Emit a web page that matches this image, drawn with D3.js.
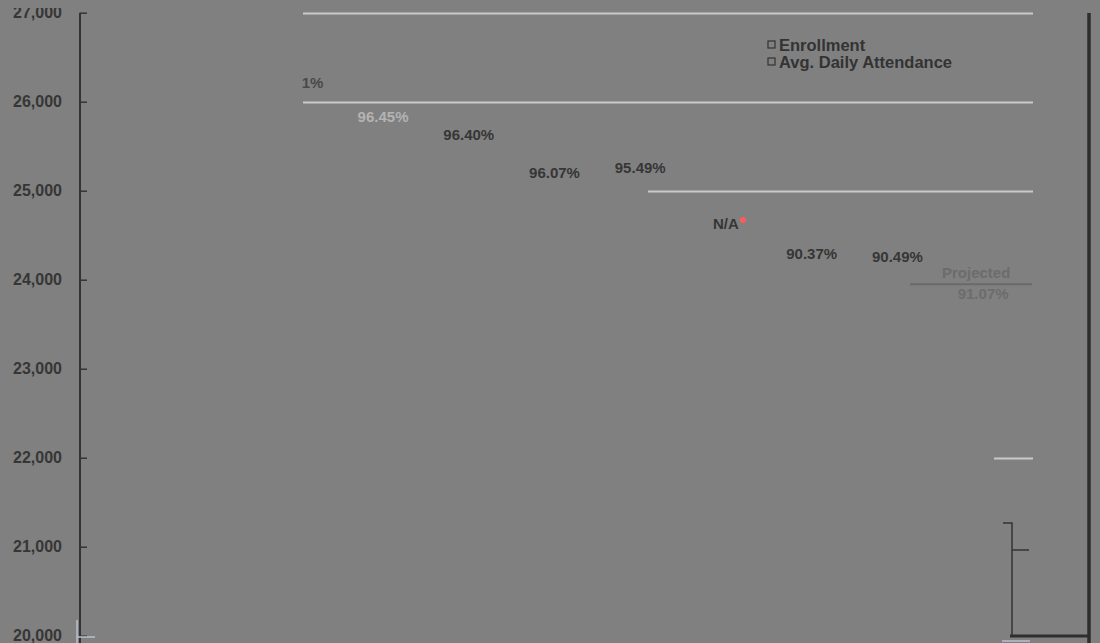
<!DOCTYPE html>
<html>
<head>
<meta charset="utf-8">
<script src="https://cdnjs.cloudflare.com/ajax/libs/d3/7.8.5/d3.min.js"></script>
<style>
  html, body { margin: 0; padding: 0; background: #808080; }
  svg { display: block; }
  .tick-label { font-family: "Liberation Sans", Arial, sans-serif; font-weight: bold; font-size: 16px; fill: #363636; }
  .rate { font-family: "Liberation Sans", Arial, sans-serif; font-weight: bold; font-size: 15px; }
  .legend { font-family: "Liberation Sans", Arial, sans-serif; font-weight: bold; font-size: 16.5px; fill: #333; }
</style>
</head>
<body>
<div id="chart"></div>
<script>
// categories (years are not printed on the chart, only positions)
const categories = ["P1","P2","P3","P4","P5","P6","P7","P8","P9","P10","P11"];
// attendance rate labels per category
const rateLabels = [null, null, "1%", "96.45%", "96.40%", "96.07%", "95.49%", "N/A", "90.37%", "90.49%", "91.07%"];
// enrollment level the rate label sits at
const labelLevels = [null, null, 26150, 25770, 25570, 25140, 25200, 24570, 24230, 24200, 23780];
// y ticks
const yTicks = [20000, 21000, 22000, 23000, 24000, 25000, 26000, 27000];

const W = 1100, H = 643;

const svg = d3.select("#chart").append("svg")
	.attr("width", W)
	.attr("height", H);

svg.append("rect").attr("width", W).attr("height", H).attr("fill", "#808080");

const x = d3.scaleBand().domain(categories).range([83, 1026]);
const y = d3.scaleLinear().domain([20000, 27000]).range([635.7, 12.7]);

//-----------------------------------------------------
// gridlines (only partly visible in the chart)
const gridFrom = {27000: 303, 26000: 303, 25000: 648, 22000: 994};
svg.selectAll(".grid")
	.data(yTicks.filter(function(t) { return gridFrom[t] !== undefined; }))
	.enter()
	.append("line")
	.attr("class", "grid")
	.attr("x1", function(t) { return gridFrom[t]; })
	.attr("x2", 1033)
	.attr("y1", function(t) { return Math.round(y(t)) + 0.5; })
	.attr("y2", function(t) { return Math.round(y(t)) + 0.5; })
	.attr("stroke", "#c9c9c9")
	.attr("stroke-width", 2);

//-----------------------------------------------------
// left axis
const yAxis = d3.axisRight(y).tickValues(yTicks).tickSize(7).tickFormat("");
const ga = svg.append("g").attr("transform", "translate(80,0)").call(yAxis);
ga.select(".domain").remove();
ga.selectAll(".tick line").attr("stroke", "#333").attr("stroke-width", 1.5);
ga.append("line")
	.attr("x1", 0).attr("x2", 0)
	.attr("y1", y(27000)).attr("y2", H)
	.attr("stroke", "#333").attr("stroke-width", 2);

svg.selectAll(".tick-label")
	.data(yTicks)
	.enter()
	.append("text")
	.attr("class", "tick-label")
	.attr("x", 62)
	.attr("y", function(t) { return y(t); })
	.attr("dy", "0.36em")
	.attr("text-anchor", "end")
	.text(d3.format(","));

// top edge hides the upper part of the first label
svg.append("rect")
	.attr("x", 0).attr("y", 0)
	.attr("width", 75).attr("height", 8)
	.attr("fill", "#808080");

// light marks at the bottom of the left axis
svg.append("path")
	.attr("d", "M77,620 V643 M77,637 H95")
	.attr("fill", "none")
	.attr("stroke", "#b8bfd0")
	.attr("stroke-width", 1.5);

//-----------------------------------------------------
// attendance rate labels
const rates = categories.map(function(c, i) {
	return {cat: c, label: rateLabels[i], level: labelLevels[i]};
}).filter(function(d) { return d.label; });

const last = categories[categories.length - 1];

svg.selectAll(".rate")
	.data(rates)
	.enter()
	.append("text")
	.attr("class", "rate")
	.attr("x", function(d, i) {
		const cx = x(d.cat) + x.bandwidth() / 2;
		return i === 0 ? cx + 26 : cx;
	})
	.attr("y", function(d) { return y(d.level); })
	.attr("text-anchor", function(d, i) { return i === 0 ? "end" : "middle"; })
	.attr("fill", function(d, i) {
		if (i === 0) return "#4a4a4a";
		if (i === 1) return "#b3b3b3";
		if (d.cat === last) return "#6c6c6c";
		return "#363636";
	})
	.text(function(d) { return d.label; });

// N/A marker
const na = rates.find(function(d) { return d.label === "N/A"; });
svg.append("circle")
	.attr("cx", x(na.cat) + x.bandwidth() / 2 + 17)
	.attr("cy", y(na.level) - 9)
	.attr("r", 3)
	.attr("fill", "#ff5a5a");

// "Projected" heading over the last label
const pcx = x(last) + x.bandwidth() / 2;
const py = y(labelLevels[labelLevels.length - 1]);
svg.append("text")
	.attr("class", "rate")
	.attr("x", pcx - 7)
	.attr("y", py - 21)
	.attr("text-anchor", "middle")
	.attr("fill", "#6c6c6c")
	.text("Projected");
svg.append("line")
	.attr("x1", 910).attr("x2", 1032)
	.attr("y1", py - 15).attr("y2", py - 15)
	.attr("stroke", "#6a6a6a")
	.attr("stroke-width", 2);

//-----------------------------------------------------
// legend
const legendItems = ["Enrollment", "Avg. Daily Attendance"];
const lg = svg.selectAll(".lg")
	.data(legendItems)
	.enter()
	.append("g")
	.attr("class", "lg")
	.attr("transform", function(d, i) { return "translate(768," + (41 + i * 17) + ")"; });
lg.append("rect")
	.attr("width", 7).attr("height", 7)
	.attr("fill", "none")
	.attr("stroke", "#333")
	.attr("stroke-width", 1.2);
lg.append("text")
	.attr("class", "legend")
	.attr("x", 11)
	.attr("y", 4)
	.attr("dy", "0.36em")
	.text(function(d) { return d; });

//-----------------------------------------------------
// right frame bits
svg.append("line")
	.attr("x1", 1089).attr("x2", 1089)
	.attr("y1", 13).attr("y2", H)
	.attr("stroke", "#2e2e2e").attr("stroke-width", 3.5);
svg.append("line")
	.attr("x1", 1010).attr("x2", 1090)
	.attr("y1", 636).attr("y2", 636)
	.attr("stroke", "#2e2e2e").attr("stroke-width", 3);
svg.append("path")
	.attr("d", "M1003,523 H1012 V636 M1012,550 H1029")
	.attr("fill", "none")
	.attr("stroke", "#333")
	.attr("stroke-width", 1.5);
svg.append("line")
	.attr("x1", 1002).attr("x2", 1030)
	.attr("y1", 641).attr("y2", 641)
	.attr("stroke", "#b8bfd0").attr("stroke-width", 1.5);
</script>
</body>
</html>
